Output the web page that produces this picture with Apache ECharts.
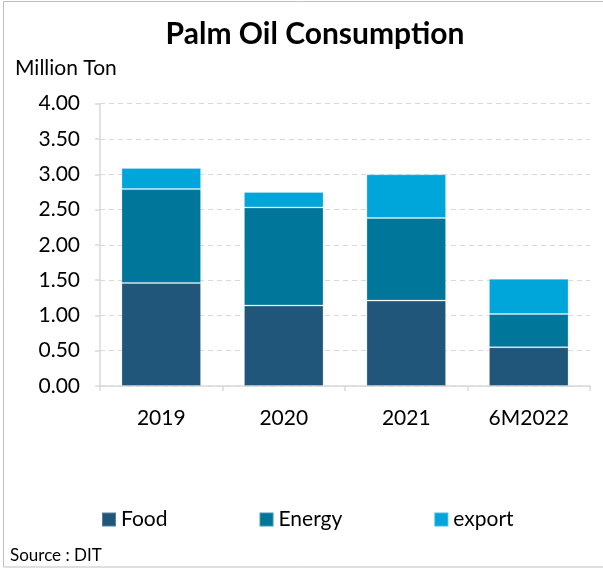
<!DOCTYPE html>
<html><head><meta charset="utf-8">
<script src="https://cdn.jsdelivr.net/npm/echarts@6/dist/echarts.min.js"></script>
<style>html,body{margin:0;padding:0;background:#fff}#c{width:603px;height:569px}</style>
</head><body><div id="c"></div>
<script>
const categories = ['2019', '2020', '2021', '6M2022'];
const food = [1.46, 1.14, 1.21, 0.55];
const energy = [1.33, 1.39, 1.17, 0.47];
const exportVals = [0.30, 0.22, 0.62, 0.50];
const yTicks = { min: 0, max: 4, interval: 0.5 };

const FONT = 'Lato, "Open Sans", sans-serif';
const chart = echarts.init(document.getElementById('c'), null, { renderer: 'canvas' });
const barStyle = c => ({ color: c, borderColor: 'rgba(255,255,255,0.25)', borderWidth: 1 });
chart.setOption({
  animation: false,
  backgroundColor: '#fff',
  textStyle: { fontFamily: FONT },
  title: {
    text: 'Palm Oil Consumption', left: 310, top: 14, textAlign: 'center',
    textStyle: { fontFamily: FONT, fontSize: 30, fontWeight: 'bold', color: '#000' }
  },
  graphic: [
    { type: 'rect', shape: { x: 3.5, y: 1.5, width: 610, height: 565.5 }, style: { fill: 'none', stroke: '#bfbfbf', lineWidth: 1 } },
    { type: 'text', left: 15, top: 58, style: { text: 'Million Ton', font: '21px ' + FONT, fill: '#000' } },
    { type: 'text', left: 10, top: 547, style: { text: 'Source : DIT', font: '17px ' + FONT, fill: '#000' } }
  ],
  legend: {
    bottom: 34, left: 96, itemGap: 91, itemWidth: 14, itemHeight: 14, icon: 'rect',
    textStyle: { fontFamily: FONT, fontSize: 21, color: '#000' },
    data: ['Food', 'Energy', 'export']
  },
  grid: { left: 100, right: 13, top: 103.7, bottom: 183, containLabel: false },
  xAxis: {
    type: 'category', data: categories,
    axisLine: { lineStyle: { color: '#d9d9d9', width: 1.5 } },
    axisTick: { show: true, length: 5, lineStyle: { color: '#d9d9d9', width: 1.5 } },
    axisLabel: { fontFamily: FONT, fontSize: 21, color: '#000', margin: 22 }
  },
  yAxis: {
    type: 'value', min: yTicks.min, max: yTicks.max, interval: yTicks.interval,
    axisLine: { show: true, lineStyle: { color: '#d9d9d9', width: 1.5 } },
    axisTick: { show: true, length: 5, lineStyle: { color: '#d9d9d9', width: 1.5 } },
    axisLabel: { fontFamily: FONT, fontSize: 21, color: '#000', margin: 20, formatter: v => v.toFixed(2) },
    splitLine: { show: true, lineStyle: { color: '#d9d9d9', type: [5, 4], width: 1 } }
  },
  series: [
    { name: 'Food', type: 'bar', stack: 's', data: food, barWidth: '65%', itemStyle: barStyle('#1f5679') },
    { name: 'Energy', type: 'bar', stack: 's', data: energy, itemStyle: barStyle('#00769a') },
    { name: 'export', type: 'bar', stack: 's', data: exportVals, itemStyle: barStyle('#00a6da') }
  ]
});
</script></body></html>
